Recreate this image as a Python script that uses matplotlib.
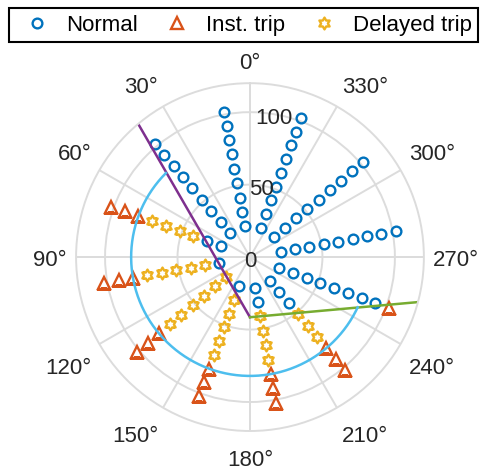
import numpy as np
import matplotlib.pyplot as plt

plt.rcParams['font.family'] = ['Liberation Sans', 'DejaVu Sans']

# test rays (deg, counter-clockwise from top) and the radius of each sample on a ray
ray_theta = [10, 40, 70, 100, 130, 160, 190, 220, 250, 280, 310, 340]
ray_r = [21.5, 31.5, 41.6, 51.7, 61.8, 71.9, 82, 92, 102]
# N = normal, D = delayed trip, I = instantaneous trip
ray_class = [
    "NNNNNNNNN",
    "NNNNNNNNN",
    "NNDDDDIII",
    "NDDDDDIII",
    "DDDDDDIII",
    "NDDDDDIII",
    "NNDDDDIII",
    "NNNDDDIII",
    "NNNNNNNNI",
    "NNNNNNNNN",
    "NNNNNNNNN",
    "NNNNNNNNN",
]

# characteristic boundaries
origin_theta, origin_r = 180, 41.5
left_edge_theta, left_edge_r = 40, 120
right_edge_theta, right_edge_r = 255, 120
arc_r = 82
arc_from, arc_to = 45, 245

theta_ticks = list(range(0, 360, 30))
r_ticks = [0, 50, 100]

pts = {"N": ([], []), "D": ([], []), "I": ([], [])}
for th, cls in zip(ray_theta, ray_class):
    for r, c in zip(ray_r, cls):
        pts[c][0].append(np.deg2rad(th))
        pts[c][1].append(r)

fig = plt.figure(figsize=(4.87, 4.70), dpi=100)
ax = fig.add_axes([0.156, 0.083, 0.7146, 0.740], projection='polar')
ax.set_theta_zero_location('N')
ax.set_theta_direction(1)

hexagram = plt.matplotlib.path.Path.unit_regular_star(6, 0.577)

h1, = ax.plot(pts["N"][0], pts["N"][1], 'o', ls='none', ms=7, mew=1.7,
              mfc='none', mec='#0072BD', label='Normal')
h2, = ax.plot(pts["I"][0], pts["I"][1], '^', ls='none', ms=8.5, mew=1.7,
              mfc='none', mec='#D95319', label='Inst. trip')
h3, = ax.plot(pts["D"][0], pts["D"][1], marker=hexagram, ls='none', ms=8.5, mew=1.7,
              mfc='none', mec='#EDB120', label='Delayed trip')

ax.plot(np.deg2rad([origin_theta, left_edge_theta]), [origin_r, left_edge_r],
        color='#7E2F8E', lw=1.8)
ax.plot(np.deg2rad([origin_theta, right_edge_theta]), [origin_r, right_edge_r],
        color='#77AC30', lw=1.8)
arc_t = np.deg2rad(np.linspace(arc_from, arc_to, 300))
ax.plot(arc_t, np.full_like(arc_t, arc_r), color='#4DBEEE', lw=1.8)

ax.set_rlim(0, 120)
ax.set_rticks(r_ticks)
ax.set_yticklabels([])
ax.set_thetagrids(theta_ticks, labels=[''] * len(theta_ticks))
ax.grid(color='#dcdcdc', linewidth=1.4)
ax.spines['polar'].set_color('#dcdcdc')
ax.spines['polar'].set_linewidth(1.4)

# angle labels, aligned outward like matlab's polaraxes
for a in theta_ticks:
    s, c = -np.sin(np.deg2rad(a)), np.cos(np.deg2rad(a))
    ha = 'center' if abs(s) < 0.1 else ('left' if s > 0 else 'right')
    va = 'center' if abs(c) < 0.1 else ('bottom' if c > 0 else 'top')
    dy = {'bottom': 0, 'center': -2.5, 'top': -7}[va]
    ax.annotate(f'{a}°', xy=(np.deg2rad(a), 126.5), xytext=(0, dy),
                textcoords='offset points', ha=ha, va=va, fontsize=16,
                color='#262626', annotation_clip=False)

for r in r_ticks:
    ax.annotate(str(r), xy=(np.deg2rad(350.5), r), xytext=(0, -3),
                textcoords='offset points', ha='center', va='center',
                fontsize=16, color='#262626')

leg = fig.legend(handles=[h1, h2, h3], loc='upper center',
                 bbox_to_anchor=(0.5, 1 - 8 / 470), ncol=3, fontsize=16,
                 frameon=True, fancybox=False, edgecolor='black', framealpha=1,
                 borderpad=0.3, handlelength=2.0, handletextpad=0.3,
                 columnspacing=0.75, borderaxespad=0)
leg.get_frame().set_linewidth(1.5)

fig.savefig('out.png', dpi=100)
